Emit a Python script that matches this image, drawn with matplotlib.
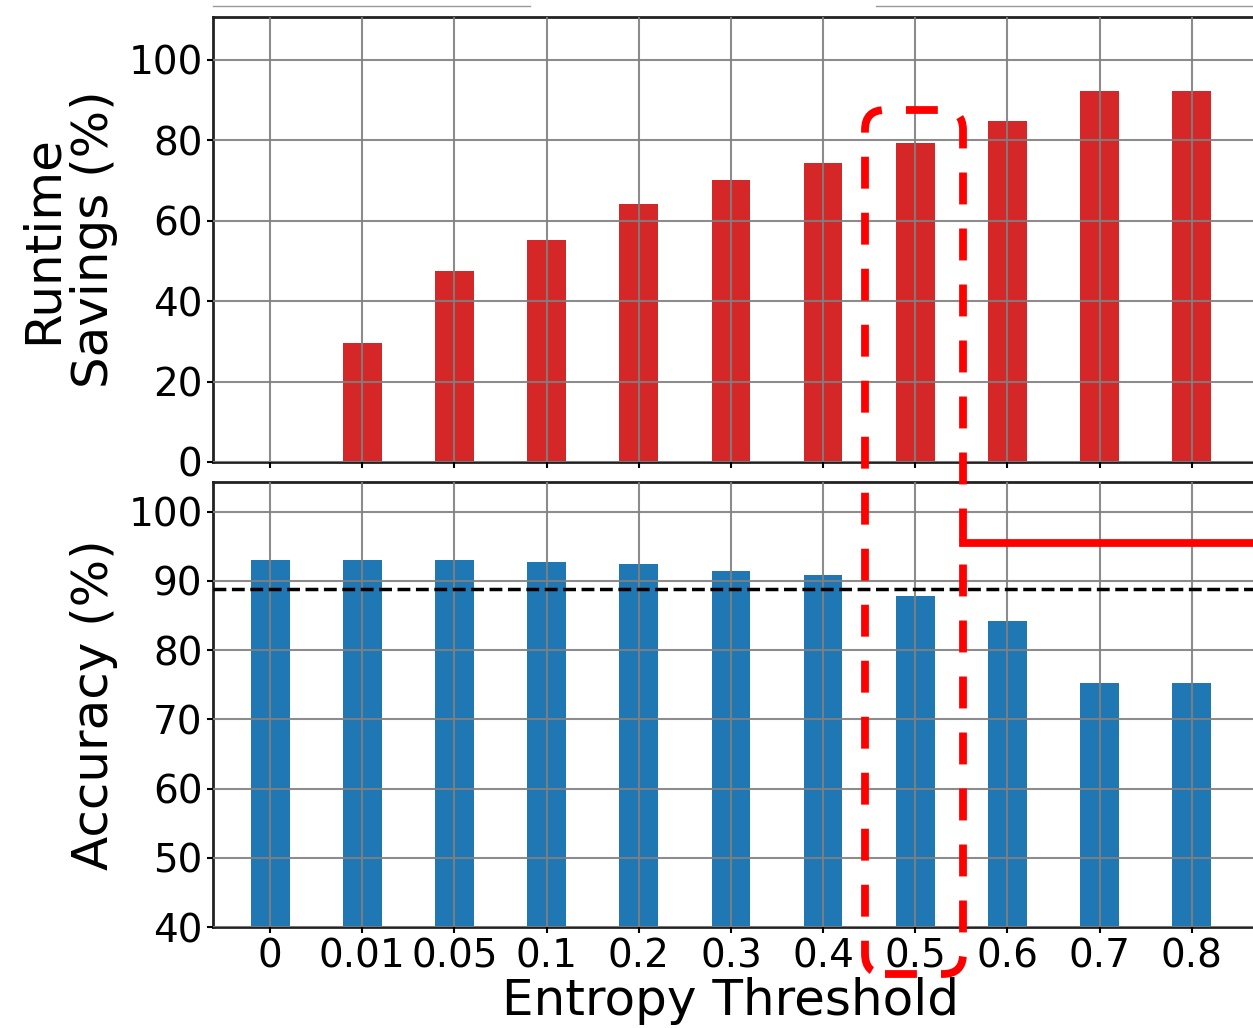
import matplotlib.pyplot as plt
from matplotlib.patches import FancyBboxPatch
from matplotlib.lines import Line2D

# data
thresholds = ['0', '0.01', '0.05', '0.1', '0.2', '0.3', '0.4', '0.5', '0.6', '0.7', '0.8']
runtime_savings = [0, 29.6, 47.5, 55.2, 64.2, 70.1, 74.4, 79.4, 84.8, 92.3, 92.3]
accuracy = [93.1, 93.1, 93.1, 92.7, 92.5, 91.5, 90.8, 87.9, 84.2, 75.2, 75.2]
baseline_acc = 88.8
savings_ticks = [0, 20, 40, 60, 80, 100]
acc_ticks = [40, 50, 60, 70, 80, 90, 100]

plt.rcParams['font.family'] = 'DejaVu Sans'

fig = plt.figure(figsize=(12.53, 10.28), dpi=100)
ax1 = fig.add_axes([0.170, 0.5506, 0.840, 0.4329])
ax2 = fig.add_axes([0.170, 0.0982, 0.840, 0.4329])

x = list(range(len(thresholds)))
grid_kw = dict(color='#808080', linewidth=1.5, alpha=0.9)

# top: runtime savings
ax1.bar(x, runtime_savings, width=0.42, color='#d62728', zorder=1)
ax1.set_ylim(0, 110.7)
ax1.set_yticks(savings_ticks)
ax1.set_xticks(x)
ax1.set_xticklabels([])
ax1.set_ylabel('Runtime\nSavings (%)', fontsize=36, linespacing=1.1)
ax1.yaxis.set_label_coords(-0.09, 0.5)

# bottom: accuracy
ax2.bar(x, accuracy, width=0.42, color='#1f77b4', zorder=1)
ax2.axhline(baseline_acc, color='black', linestyle='--', linewidth=2.5, zorder=3)
ax2.set_ylim(40, 104.3)
ax2.set_yticks(acc_ticks)
ax2.set_xticks(x)
ax2.set_xticklabels(thresholds)
ax2.set_ylabel('Accuracy (%)', fontsize=36)
ax2.yaxis.set_label_coords(-0.09, 0.5)
ax2.set_xlabel('Entropy Threshold', fontsize=36)
ax2.xaxis.set_label_coords(0.492, -0.113)

for ax in (ax1, ax2):
    ax.set_xlim(-0.62, 10.8)
    ax.grid(True, zorder=2, **grid_kw)
    ax.set_axisbelow(False)
    ax.tick_params(labelsize=28, length=4, width=1.5)
    for s in ax.spines.values():
        s.set_linewidth(2)
        s.set_color('#222222')

# highlight around threshold 0.5
box = FancyBboxPatch((8.65, 0.54), 0.98, 8.64,
                     boxstyle='round,pad=0,rounding_size=0.2',
                     transform=fig.dpi_scale_trans, fill=False,
                     edgecolor='#ff0000', linewidth=5.6,
                     linestyle=(0, (4.1, 3.1)), zorder=10)
fig.add_artist(box)
fig.add_artist(Line2D([9.63, 12.8], [4.85, 4.85], transform=fig.dpi_scale_trans,
                      color='#ff0000', linewidth=5.6, zorder=10))

# faint lines at the very top (remnants of the panel above)
for x0, x1 in [(2.13, 5.30), (8.76, 12.6)]:
    fig.add_artist(Line2D([x0, x1], [10.22, 10.22], transform=fig.dpi_scale_trans,
                          color='#999999', linewidth=1))

fig.savefig('out.png', dpi=100)
